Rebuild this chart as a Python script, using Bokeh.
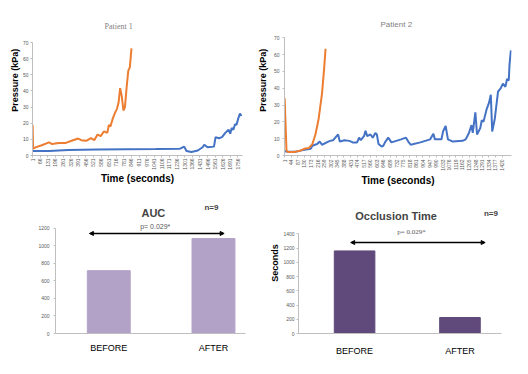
from math import pi
from bokeh.plotting import figure
from bokeh.layouts import column, row
from bokeh.models import FixedTicker, Arrow, NormalHead, Label, Range1d
from bokeh.embed import file_html
from bokeh.resources import INLINE

# ---------------- data ----------------
p1_ticks = [1, 66, 131, 196, 261, 326, 391, 456, 521, 586, 651, 716, 781, 846, 911,
            976, 1041, 1106, 1171, 1236, 1301, 1366, 1431, 1496, 1561, 1626, 1691, 1756]
p2_ticks = [1, 44, 87, 130, 173, 216, 259, 302, 345, 388, 431, 474, 517, 560, 603, 646,
            689, 732, 775, 818, 861, 904, 947, 990, 1033, 1076, 1119, 1162, 1205, 1248,
            1291, 1334, 1377, 1420]
pressure_ticks = [0, 10, 20, 30, 40, 50, 60, 70]

p1_after_t = [1, 5, 31, 85, 141, 168, 224, 280, 334, 390, 417, 459, 500, 528, 556, 583,
              611, 639, 653, 666, 688, 708, 722, 736, 749, 763, 777, 790, 805, 819, 832, 846]
p1_after_p = [19, 4.2, 5.2, 6.5, 8.1, 7.1, 7.7, 7.7, 9.1, 10.5, 9.5, 9.1, 10.7, 9.5, 13, 12,
              15, 14, 19, 18, 23.3, 26.9, 28.9, 32.8, 41.7, 36.8, 27.9, 29.8, 42.7, 52.6, 54.6, 66.4]

p1_before_t = [1, 141, 307, 556, 805, 1053, 1261, 1297, 1316, 1358, 1413, 1454, 1468, 1496,
               1551, 1565, 1593, 1620, 1648, 1676, 1690, 1703, 1717, 1731, 1744, 1759, 1773, 1786]
p1_before_p = [2.8, 2.8, 3.4, 3.7, 3.9, 4.0, 4.2, 5.5, 2.8, 2.2, 3.1, 5.1, 6.7, 5.1,
               5.5, 11.4, 10.7, 11.4, 14, 16, 13.5, 17, 16, 19.4, 19, 23, 26, 24.5]

p2_after_t = [1, 13, 23, 63, 108, 128, 160, 182, 202, 223, 245, 259, 268]
p2_after_p = [34, 3.0, 2.1, 2.1, 3.0, 4.0, 4.5, 6.8, 12.5, 21.9, 37, 52, 63.5]

p2_before_t = [1, 23, 76, 120, 171, 182, 213, 230, 245, 276, 297, 318, 340, 350, 361, 392,
               424, 445, 474, 487, 498, 519, 529, 540, 561, 576, 593, 603, 614, 634, 645, 656,
               677, 698, 761, 793, 808, 824, 887, 951, 972, 982, 1025, 1035, 1052, 1067, 1099,
               1162, 1183, 1204, 1221, 1229, 1246, 1257, 1278, 1288, 1299, 1320, 1335, 1347,
               1356, 1373, 1394, 1411, 1426, 1442, 1453, 1464, 1469, 1478]
p2_before_p = [2.5, 2.3, 2.3, 3.2, 4.0, 5.8, 6.8, 8.3, 6.4, 7.8, 8.7, 9.1, 11.5, 12.5, 8.3, 9.1,
               8.7, 7.8, 7.8, 10.6, 9.1, 11.5, 14.7, 11.5, 12.5, 10.6, 13.4, 12.5, 6.8, 5.3, 5.8, 7.8,
               10.6, 7.8, 9.6, 10.6, 8.3, 6.4, 7.8, 9.6, 12.9, 9.6, 9.6, 14.3, 17.6, 9.6, 8.3,
               8.7, 9.6, 13.4, 18.1, 13.4, 25.7, 12.5, 16.3, 21, 20, 27.6, 31.3, 36.1,
               14.3, 21.9, 38, 39.9, 42.7, 40.8, 45.5, 44.6, 54, 62.5]

groups = ["BEFORE", "AFTER"]
auc_values = [715, 1080]
auc_ticks = [0, 200, 400, 600, 800, 1000, 1200]
occlusion_values = [1160, 225]
occlusion_ticks = [0, 200, 400, 600, 800, 1000, 1200, 1400]

ORANGE = "#ED7D31"
BLUE = "#4472C4"
AXIS = "#BFBFBF"
TICKTXT = "#595959"
FONT = "Liberation Sans"


def style_axes(p, tick_font="5px"):
    p.xgrid.visible = False
    p.ygrid.visible = False
    p.outline_line_color = None
    for ax in (p.xaxis[0], p.yaxis[0]):
        ax.axis_line_color = AXIS
        ax.major_tick_line_color = AXIS
        ax.minor_tick_line_color = None
        ax.major_tick_in = 0
        ax.major_tick_out = 2
        ax.major_label_text_font = FONT
        ax.major_label_text_font_size = tick_font
        ax.major_label_text_color = TICKTXT
        ax.axis_label_text_font = FONT
        ax.axis_label_text_font_style = "bold"
        ax.axis_label_text_color = "#000000"


def line_fig(title, title_font, title_pos, xmax, ytop, ticks, bt, bp, at, ap, w, h, borders,
             y_stand, x_stand):
    l, r, t, b = borders
    p = figure(width=w, height=h, x_range=Range1d(0, xmax), y_range=Range1d(0, ytop),
               output_backend="svg", toolbar_location=None,
               min_border_left=l, min_border_right=r, min_border_top=t, min_border_bottom=b)
    p.line(bt, bp, color=BLUE, line_width=2)
    p.line(at, ap, color=ORANGE, line_width=2)
    style_axes(p)
    p.xaxis.ticker = FixedTicker(ticks=ticks)
    p.yaxis.ticker = FixedTicker(ticks=pressure_ticks)
    p.yaxis.bounds = (0, 70)
    p.xaxis.major_label_orientation = pi / 2
    p.xaxis.major_label_standoff = x_stand[0]
    p.yaxis.major_label_standoff = y_stand[0]
    p.xaxis.axis_label = "Time (seconds)"
    p.xaxis.axis_label_text_font_size = "10px"
    p.xaxis.axis_label_standoff = x_stand[1]
    p.yaxis.axis_label = "Pressure  (kPa)"
    p.yaxis.axis_label_text_font_size = "9px"
    p.yaxis.axis_label_standoff = y_stand[1]
    p.add_layout(Label(x=title_pos[0], y=title_pos[1], text=title, text_font=title_font,
                       text_font_size="8px", text_color="#7F7F7F",
                       text_align="center", text_baseline="middle"))
    return p


p1 = line_fig("Patient  1", "Liberation Serif", (744, 80.0), 1795, 94.8, p1_ticks,
              p1_before_t, p1_before_p, p1_after_t, p1_after_p,
              254, 190, (32, 12, 2, 35), (2, 0), (1, 0))
p2 = line_fig("Patient 2", FONT, (730, 77.9), 1482, 91.0, p2_ticks,
              p2_before_t, p2_before_p, p2_after_t, p2_after_p,
              258, 190, (30, 1, 2, 35), (3, 3), (2, 1))


def bar_fig(title, vals, ticks, ybound, ytop, xr, color, bar_w, w, h, borders, label_standoff,
            title_pos, n_pos, p_pos, arrow_pos, p_font, ylabel=None):
    l, r, t, b = borders
    positions = [i + 1 for i in range(len(groups))]
    p = figure(width=w, height=h, x_range=Range1d(*xr), y_range=Range1d(0, ytop),
               output_backend="svg", toolbar_location=None,
               min_border_left=l, min_border_right=r, min_border_top=t, min_border_bottom=b)
    p.vbar(x=positions, top=vals, width=bar_w, color=color)
    style_axes(p)
    p.yaxis.ticker = FixedTicker(ticks=ticks)
    p.yaxis.bounds = (0, ybound)
    p.xaxis.ticker = FixedTicker(ticks=positions)
    p.xaxis.major_label_overrides = {pos: g for pos, g in zip(positions, groups)}
    p.xaxis.major_tick_line_color = None
    p.xaxis.major_label_text_font_size = "9px"
    p.xaxis.major_label_text_color = "#000000"
    p.xaxis.major_label_standoff = label_standoff
    if ylabel:
        p.yaxis.axis_label = ylabel
        p.yaxis.axis_label_text_font_size = "9px"
        p.yaxis.axis_label_standoff = 0
        p.yaxis.major_label_standoff = 2
    else:
        p.yaxis.major_label_standoff = 4
    p.add_layout(Label(x=title_pos[0], y=title_pos[1], text=title, text_font=FONT,
                       text_font_size="11px", text_font_style="bold",
                       text_align="center", text_baseline="middle"))
    p.add_layout(Label(x=n_pos[0], y=n_pos[1], text="n=9", text_font=FONT,
                       text_font_size="8px", text_font_style="bold",
                       text_align="center", text_baseline="middle"))
    p.add_layout(Label(x=p_pos[0], y=p_pos[1], text="p= 0.029*", text_font=p_font,
                       text_font_size="7px", text_color="#595959",
                       text_align="center", text_baseline="middle"))
    x0, x1, yy = arrow_pos
    p.add_layout(Arrow(x_start=x0, y_start=yy, x_end=x1, y_end=yy, line_width=1.5,
                       line_color="#000000",
                       start=NormalHead(size=4, fill_color="#000000", line_color="#000000"),
                       end=NormalHead(size=4, fill_color="#000000", line_color="#000000")))
    return p


p3 = bar_fig("AUC", auc_values, auc_ticks, 1200, 1604, (0.491, 2.306), "#B3A2C7", 0.41,
             254, 168, (55, 9, 2, 18), 7, (1.426, 1374), (1.981, 1428), (1.444, 1222),
             (0.815, 2.102, 1138), FONT)
p4 = bar_fig("Occlusion Time", occlusion_values, occlusion_ticks, 1400, 1981, (0.468, 2.394),
             "#604A7B", 0.385, 258, 168, (44, 11, 2, 23), 10, (1.394, 1651), (2.294, 1687),
             (1.541, 1427), (0.963, 2.239, 1278), "Liberation Serif", ylabel="Seconds")

layout = column(row(p1, p2), row(p3, p4))
open("out.html", "w").write(file_html(layout, INLINE))
